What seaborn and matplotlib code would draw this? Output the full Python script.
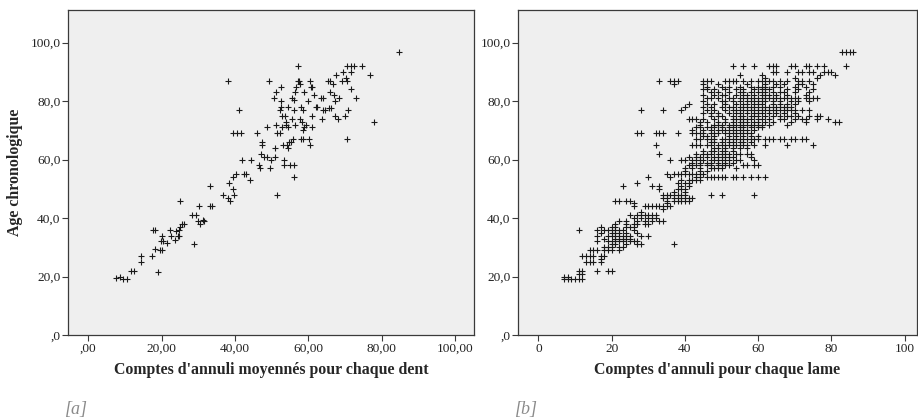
import matplotlib
matplotlib.use("Agg")
import matplotlib.pyplot as plt
import seaborn as sns
import pandas as pd

# ---- Panel [a]: mean annuli count per tooth vs chronological age ----
dent_counts = [
    84.7, 38.0, 49.4, 57.3, 70.5, 71.7, 72.5, 74.7, 76.9, 69.5, 71.7, 67.7,
    57.1, 57.6, 60.4, 65.5, 66.0, 69.3, 70.7, 70.4, 52.7, 60.7, 61.1, 56.7,
    57.8, 66.7, 71.7, 56.4, 58.9, 51.1, 61.6, 67.1, 66.0, 50.7, 64.0, 63.6,
    73.1, 68.5, 55.6, 56.0, 52.7, 60.0, 67.3, 52.7, 54.4, 58.0, 62.0, 62.4,
    52.4, 41.1, 56.2, 58.5, 64.0, 64.5, 65.6, 66.2, 70.9, 52.9, 53.8, 61.0,
    63.8, 67.3, 68.2, 70.0, 54.0, 55.6, 57.8, 58.2, 77.8, 51.1, 54.0, 54.5,
    56.5, 59.3, 58.9, 61.1, 48.7, 52.9, 39.6, 40.5, 41.8, 46.0, 51.5, 52.4,
    58.7, 47.3, 47.5, 53.1, 54.7, 55.3, 54.5, 54.2, 55.8, 58.0, 58.7, 60.2,
    60.4, 70.7, 50.9, 47.1, 48.0, 48.7, 42.0, 44.4, 49.8, 53.3, 50.9, 46.5,
    46.9, 49.6, 53.3, 55.1, 56.2, 56.0, 51.5, 42.5, 43.1, 44.0, 39.5, 40.4,
    38.5, 39.5, 33.1, 36.7, 38.2, 38.7, 39.8, 33.1, 33.8, 30.2, 25.1, 28.4,
    29.5, 30.0, 30.4, 31.3, 31.6, 25.6, 26.0, 25.1, 24.7, 24.0, 22.2, 17.8,
    18.2, 20.0, 22.5, 24.4, 24.7, 19.8, 20.4, 21.6, 23.6, 18.3, 19.6, 20.2,
    28.9, 14.5, 17.3, 14.5, 19.1, 11.6, 12.5, 7.5, 8.7, 9.6, 10.7,
]
dent_ages = [
    97, 87, 87, 92, 92, 92, 92, 92, 89, 90, 90, 89,
    87, 87, 87, 87, 87, 87, 87, 88, 85, 85, 85, 85,
    86, 86, 84, 83, 83, 83, 82, 82, 83, 81, 81, 81,
    81, 81, 81, 80.5, 80, 80, 80, 78, 78, 78, 78, 78,
    77, 77, 77, 77, 77, 77, 77.5, 77.5, 77, 75, 75, 75,
    74, 75, 74, 75, 73, 74, 74, 73, 73, 72, 72, 71,
    72, 72, 71, 71, 71, 71, 69, 69, 69, 69, 69, 69,
    70, 66, 65, 65, 66, 66, 64, 65, 67, 67, 67, 67,
    65, 67, 64, 62, 61, 61, 60, 60, 60, 60, 61, 58,
    57, 57, 58, 58, 58, 54, 48, 55, 55, 53, 54, 55,
    52, 50, 51, 48, 47, 46, 48, 44, 44, 44, 46, 41,
    41, 39, 38, 39.5, 39, 38, 38, 37, 36, 35.6, 36, 36,
    36, 34, 34, 34, 34, 32, 32, 31.5, 32.5, 29.5, 29, 29,
    31, 27, 27, 25, 21.5, 22, 22, 19.5, 20, 19, 19,
]

# ---- Panel [b]: annuli count per blade, listed by age row ----
lame_ages = [
    97, 92, 90, 89, 88, 87, 86, 85, 84, 83, 82, 81, 80, 79, 78, 77, 76, 75,
    74, 73, 72, 71, 70, 69, 68, 67, 66, 65, 64, 63, 62, 61, 60, 59, 58, 57,
    56, 55, 54, 53, 52, 51, 50, 49, 48, 47, 46, 45, 44, 43, 42, 41, 40, 39,
    38, 37, 36, 35, 34, 33, 32, 31, 30, 29, 27, 26, 25, 22, 21, 20, 19,
]
lame_counts = [
    [83, 84, 85, 86],
    [53, 56, 59, 63, 64, 65, 69, 70, 73, 74, 76, 78, 84],
    [64, 65, 68, 71, 72, 74, 75, 78, 79, 80],
    [55, 61, 77, 81],
    [62, 70, 76],
    [33, 36, 37, 38, 45, 46, 47, 51, 52, 53, 54, 56, 58, 60, 61, 62, 63, 64,
     66, 68, 71, 72, 74],
    [37, 45, 49, 57, 62, 65, 67, 71, 72, 75],
    [46, 50, 52, 55, 58, 60, 61, 62, 64, 66, 70, 73],
    [45, 46, 48, 51, 54, 56, 59, 61, 62, 63, 68, 71, 75],
    [47, 49, 52, 55, 56, 58, 60, 61, 62, 64, 66, 67, 70, 74],
    [45, 48, 50, 51, 54, 56, 57, 59, 61, 62, 63, 65, 68, 73],
    [46, 47, 49, 52, 53, 55, 56, 57, 58, 59, 60, 61, 62, 63, 64, 65, 66, 67,
     68, 69, 70, 71, 73, 74, 75, 76],
    [45, 50, 51, 53, 55, 57, 58, 59, 60, 61, 62, 64, 66, 69, 71, 74],
    [41, 46, 48, 51, 54, 56, 57, 59, 60, 61, 64, 66, 68, 70],
    [40, 45, 47, 50, 52, 53, 55, 56, 57, 58, 59, 60, 61, 62, 63, 64, 65, 66,
     67, 68, 69],
    [28, 34, 39, 46, 48, 51, 53, 54, 55, 56, 57, 58, 59, 60, 61, 62, 63,
     64, 65, 66, 67, 68, 69, 70, 72, 74],
    [45, 47, 49, 52, 54, 55, 57, 59, 60, 61, 63, 65, 67, 70],
    [47, 49, 50, 53, 55, 56, 58, 59, 60, 62, 64, 66, 68, 69, 71, 74,
     76, 77],
    [41, 42, 43, 45, 48, 51, 53, 54, 55, 56, 57, 58, 60, 61, 63,
     66, 67, 70, 72, 73, 76, 79],
    [44, 46, 49, 51, 53, 55, 56, 57, 59, 60, 62, 64, 69, 73, 81, 82],
    [44, 48, 49, 50, 52, 53, 54, 55, 56, 57, 58, 59, 60, 61, 63, 68],
    [43, 44, 46, 47, 48, 50, 52, 53, 55, 56, 58, 60, 61],
    [42, 45, 47, 49, 50, 51, 52, 53, 54, 55, 56, 57, 59],
    [27, 28, 32, 33, 34, 38, 42, 43, 44, 45, 47, 48, 49, 51, 52, 53, 54,
     55, 56, 57, 58],
    [45, 46, 48, 52, 54, 56, 58, 60],
    [43, 44, 46, 47, 48, 50, 51, 52, 53, 54, 55, 56, 57, 58, 59, 60, 62, 63,
     64, 66, 67, 69, 70, 72, 73],
    [47, 48, 50, 52, 53, 55, 56, 58],
    [32, 42, 43, 44, 46, 47, 49, 50, 51, 52, 53, 54, 55, 56, 57, 59, 62,
     68, 75],
    [48, 49, 51, 53, 55, 57],
    [45, 47, 48, 50, 51, 53],
    [33, 43, 45, 46, 47, 49, 50, 51, 52, 54, 55, 57, 58],
    [41, 43, 44, 46, 48, 49, 50, 51, 52, 53, 58],
    [36, 39, 40, 42, 43, 44, 45, 47, 48, 49, 50, 51, 52, 54, 55, 59],
    [42, 44, 46, 47, 49, 51, 53],
    [41, 42, 43, 44, 46, 47, 49, 50, 51, 52, 56, 57, 59, 60],
    [40, 42, 44, 47, 48, 49, 50, 54],
    [40, 44, 46],
    [35, 37, 38, 39, 40, 41, 42, 43, 44, 45],
    [30, 36, 43, 44, 46, 47, 48, 49, 50, 51, 53, 54, 56, 58, 60, 62],
    [39, 41, 42, 43, 44],
    [27, 38, 40, 41],
    [23, 31, 33, 39, 41],
    [33, 38, 39, 40],
    [37, 40],
    [34, 35, 36, 37, 38, 39, 40, 47, 50, 59],
    [34, 35, 37, 38, 39, 40, 41, 42],
    [21, 22, 24, 25, 35, 37, 38, 39, 40, 41],
    [26, 35],
    [26, 29, 30, 31, 32, 33, 34, 35, 36],
    [34],
    [28],
    [25, 27, 28, 29, 30, 31, 32],
    [26, 28, 30, 31, 32],
    [22, 24, 27, 29, 31, 33, 34],
    [21, 24, 26, 27, 29, 30],
    [17, 20, 21, 24, 25, 26],
    [11, 16, 18, 19, 20, 21, 22, 23, 26],
    [17, 20, 21, 22, 24, 27],
    [16, 19, 20, 21, 22, 23, 24, 25, 28, 30],
    [18, 21, 22, 23, 24, 25],
    [16, 19, 20, 21, 22, 23, 25, 26, 27],
    [20, 21, 24, 27, 28, 37],
    [18, 19, 20, 22, 23],
    [14, 15, 16, 18, 19, 20, 22],
    [12, 13, 14, 15, 17, 18],
    [17],
    [13, 14, 15, 17],
    [11, 12, 16, 19, 20],
    [11, 12],
    [7, 8],
    [7, 8, 9, 10, 11, 12],
]

y_ticks = [0, 20, 40, 60, 80, 100]
y_ticklabels = [",0", "20,0", "40,0", "60,0", "80,0", "100,0"]
x_ticks = [0, 20, 40, 60, 80, 100]
xa_ticklabels = [",00", "20,00", "40,00", "60,00", "80,00", "100,00"]
xb_ticklabels = ["0", "20", "40", "60", "80", "100"]

df_a = pd.DataFrame({"x": dent_counts, "age": dent_ages})
rows_x, rows_y = [], []
for age, counts in zip(lame_ages, lame_counts):
    rows_x.extend(counts)
    rows_y.extend([age] * len(counts))
df_b = pd.DataFrame({"x": rows_x, "age": rows_y})

sns.set_style("white", {"axes.facecolor": "#efefef", "axes.edgecolor": "#3a3a3a"})
plt.rcParams["font.family"] = ["Liberation Serif", "DejaVu Serif"]

fig = plt.figure(figsize=(9.18, 4.19), dpi=100)
ax_a = fig.add_axes([68 / 918, 84 / 419, 406 / 918, 325 / 419])
ax_b = fig.add_axes([518 / 918, 84 / 419, 399 / 918, 325 / 419])

mk = dict(marker="+", s=15, color="#1a1a1a", linewidth=0.8, legend=False)
sns.scatterplot(data=df_a, x="x", y="age", ax=ax_a, **mk)
sns.scatterplot(data=df_b, x="x", y="age", ax=ax_b, **mk)

for ax, xl, labels in [
    (ax_a, (-5.5, 105.2), xa_ticklabels),
    (ax_b, (-5.6, 103.4), xb_ticklabels),
]:
    ax.set_xlim(*xl)
    ax.set_ylim(0, 111.2)
    ax.set_xticks(x_ticks)
    ax.set_xticklabels(labels)
    ax.set_yticks(y_ticks)
    ax.set_yticklabels(y_ticklabels)
    ax.tick_params(axis="both", which="major", direction="out", length=4,
                   width=0.8, color="#3a3a3a", labelsize=9.6,
                   labelcolor="#222222", pad=1.5,
                   bottom=True, left=True, top=False, right=False)
    for sp in ax.spines.values():
        sp.set_linewidth(0.9)
        sp.set_color("#3a3a3a")

ax_a.set_xlabel("Comptes d'annuli moyennés pour chaque dent", fontsize=11.4,
                fontweight="bold", labelpad=5)
ax_a.set_ylabel("Age chronologique", fontsize=11.4, fontweight="bold",
                labelpad=5)
ax_b.set_xlabel("Comptes d'annuli pour chaque lame", fontsize=11.4,
                fontweight="bold", labelpad=5)
ax_b.set_ylabel("")

fig.text(65 / 918, 1 - 409 / 419, "[a]", fontsize=13, fontstyle="italic",
         color="#8a8a8a", va="center", ha="left")
fig.text(515 / 918, 1 - 409 / 419, "[b]", fontsize=13, fontstyle="italic",
         color="#8a8a8a", va="center", ha="left")

fig.savefig("out.png", dpi=100, facecolor="white")
